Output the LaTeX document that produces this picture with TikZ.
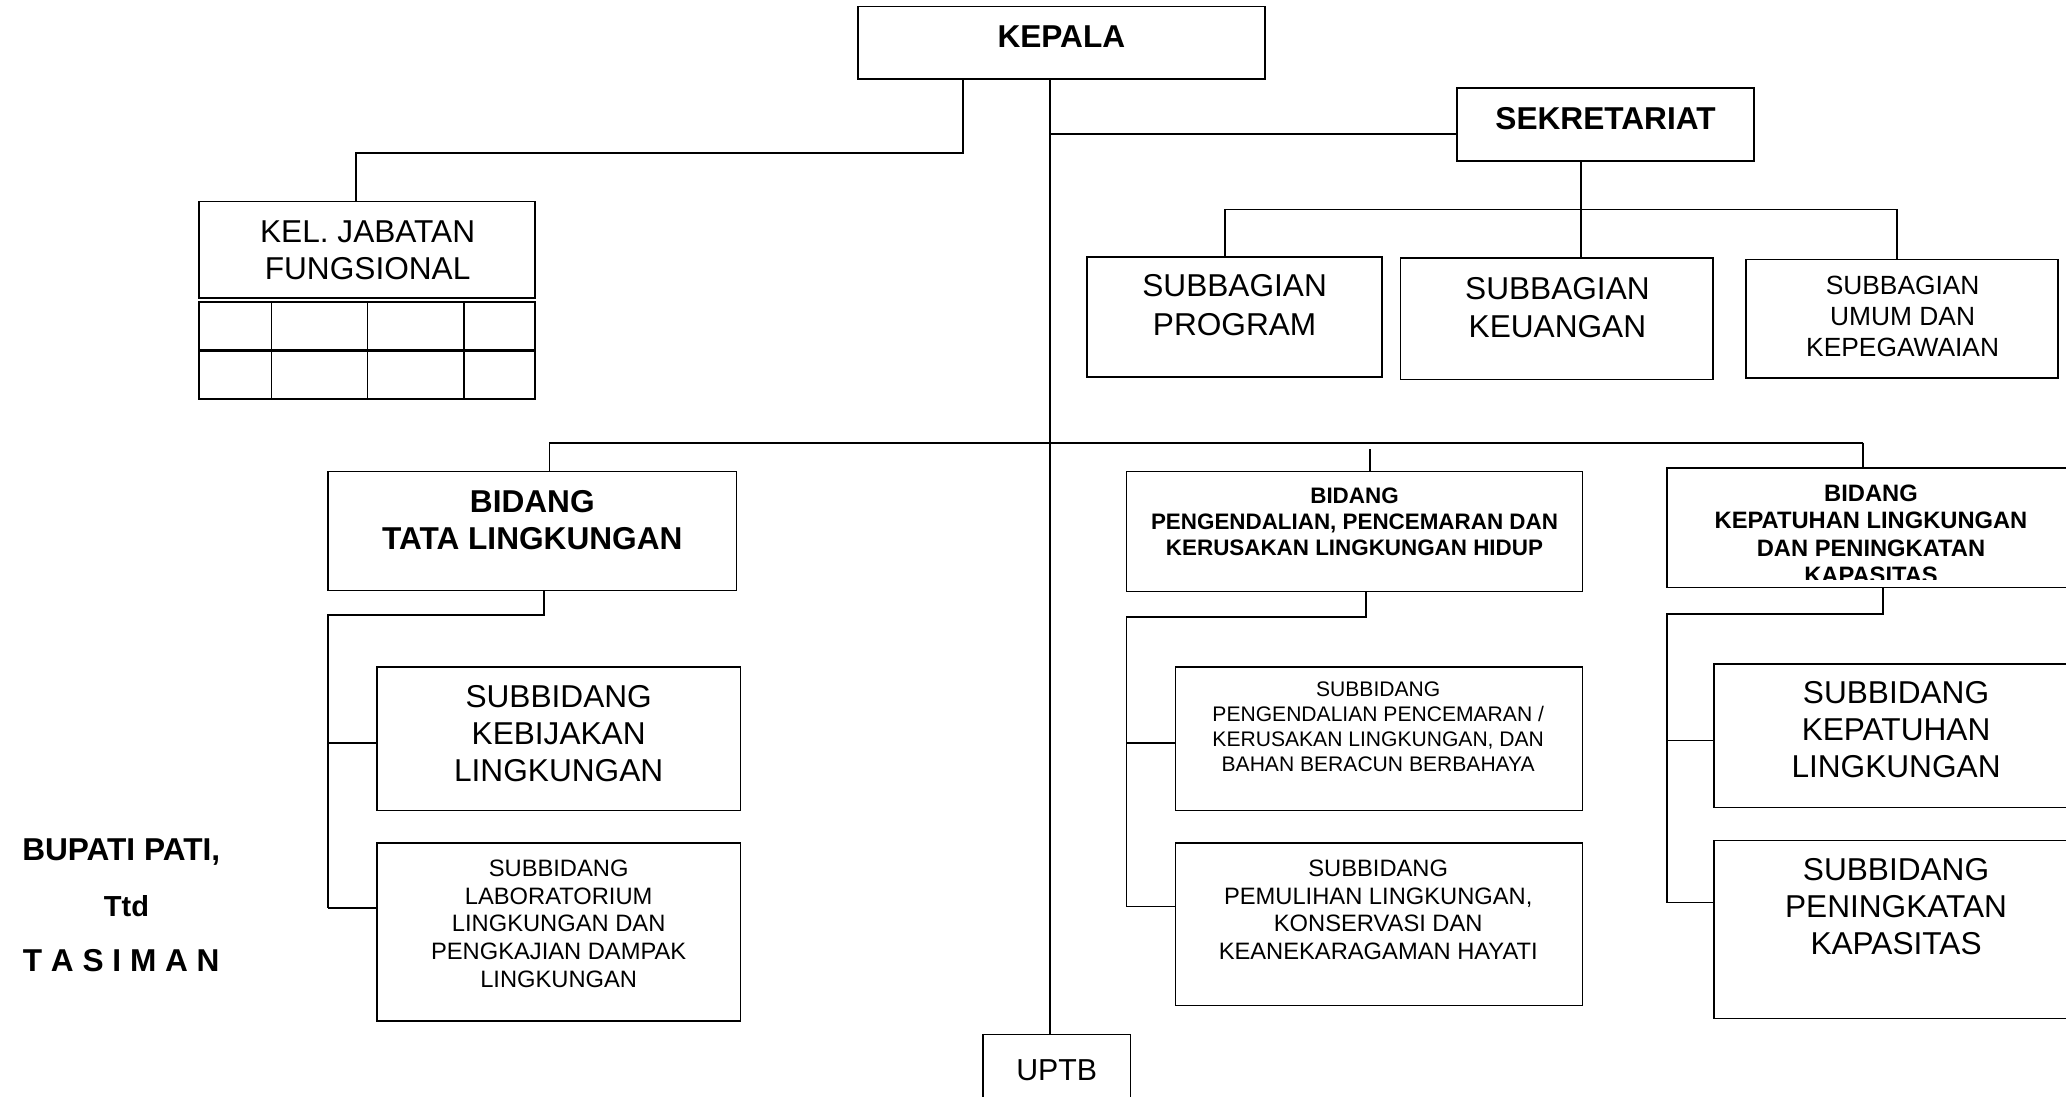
\documentclass[tikz,border=0pt]{standalone}
\usepackage{fontspec}
\setmainfont{Liberation Sans}
\begin{document}
\begin{tikzpicture}[x=1pt,y=-1pt,
  box/.style={draw, line width=1.2pt, inner sep=0pt, outer sep=0pt},
  txt/.style={align=center, inner sep=0pt},
  bigb/.style={txt, font=\bfseries\fontsize{24}{28}\selectfont},
  bigr/.style={txt, font=\fontsize{24}{28}\selectfont},
  midr/.style={txt, font=\fontsize{18}{21}\selectfont},
  conn/.style={line width=1.4pt}]
\useasboundingbox (0,0) rectangle (1568,832);
\clip (0,0) rectangle (1568,832);

% ---- boxes ----
\node[box, minimum width=309, minimum height=55] (kepala) at (805.5,32.5) {};
\node[box, minimum width=255, minimum height=73] (kel) at (278.5,189.5) {};
\node[box, minimum width=255, minimum height=74] (kelgrid) at (278.5,266) {};
\node[box, minimum width=225, minimum height=55] (sekr) at (1218.5,94.5) {};
\node[box, minimum width=224, minimum height=91] (prog) at (937,240.5) {};
\node[box, minimum width=237, minimum height=92] (keu) at (1181.5,242) {};
\node[box, minimum width=237, minimum height=90] (umum) at (1443.5,242) {};
\node[box, minimum width=310, minimum height=90] (tata) at (404,403) {};
\node[box, minimum width=346, minimum height=91] (peng) at (1028,403.5) {};
\node[box, minimum width=330, minimum height=91] (kep) at (1430,400.5) {};
\node[box, minimum width=276, minimum height=109] (keb) at (424,560.5) {};
\node[box, minimum width=276, minimum height=135] (lab) at (424,707.5) {};
\node[box, minimum width=309, minimum height=109] (subpeng) at (1046.5,560.5) {};
\node[box, minimum width=309, minimum height=123] (pem) at (1046.5,701.5) {};
\node[box, minimum width=290, minimum height=109] (subkep) at (1446,558.5) {};
\node[box, minimum width=290, minimum height=135] (ping) at (1446,705.5) {};
\node[box, minimum width=112, minimum height=60] (uptb) at (802,815) {};

% table grid under KEL
\draw[line width=2pt] (kelgrid.west) -- (kelgrid.east);
\draw[line width=1.2pt] (kelgrid.north -| 206,0) -- (kelgrid.south -| 206,0);
\draw[line width=1.2pt] (kelgrid.north -| 279,0) -- (kelgrid.south -| 279,0);
\draw[line width=1.2pt] (kelgrid.north -| 352,0) -- (kelgrid.south -| 352,0);

% ---- texts ----
\node[bigb] (kepala-t) at (805.5,28) {KEPALA};
\node[bigb] (sekr-t) at (1218.5,90) {SEKRETARIAT};
\node[bigr] (kel-t) at (279,190) {KEL. JABATAN\\FUNGSIONAL};
\node[bigr, font=\fontsize{24}{29}\selectfont] (prog-t) at (937,231.5) {SUBBAGIAN\\PROGRAM};
\node[bigr, font=\fontsize{24}{29}\selectfont] (keu-t) at (1182,233.5) {SUBBAGIAN\\KEUANGAN};
\node[txt, font=\fontsize{20}{23.5}\selectfont] (umum-t) at (1444,240.5) {SUBBAGIAN\\UMUM DAN\\KEPEGAWAIAN};
\node[bigb] (tata-t) at (404,395) {BIDANG\\TATA LINGKUNGAN};
\node[txt, font=\bfseries\fontsize{17}{20}\selectfont] (peng-t) at (1028,396) {BIDANG\\PENGENDALIAN, PENCEMARAN DAN\\KERUSAKAN LINGKUNGAN HIDUP};
\begin{scope}
  \clip (1266,356) rectangle (1568,440);
  \node[txt, font=\bfseries\fontsize{18}{20.7}\selectfont] (kep-t) at (1420,405.5) {BIDANG\\KEPATUHAN LINGKUNGAN\\DAN PENINGKATAN\\KAPASITAS};
\end{scope}
\node[bigr] (keb-t) at (424,557) {SUBBIDANG\\KEBIJAKAN\\LINGKUNGAN};
\node[midr] (lab-t) at (424,701) {SUBBIDANG\\LABORATORIUM\\LINGKUNGAN DAN\\PENGKAJIAN DAMPAK\\LINGKUNGAN};
\node[txt, font=\fontsize{16}{19}\selectfont] (subpeng-t) at (1046,551.5) {SUBBIDANG\\PENGENDALIAN PENCEMARAN /\\KERUSAKAN LINGKUNGAN, DAN\\BAHAN BERACUN BERBAHAYA};
\node[midr] (pem-t) at (1046,690.5) {SUBBIDANG\\PEMULIHAN LINGKUNGAN,\\KONSERVASI DAN\\KEANEKARAGAMAN HAYATI};
\node[bigr] (subkep-t) at (1439,554) {SUBBIDANG\\KEPATUHAN\\LINGKUNGAN};
\node[bigr] (ping-t) at (1439,688) {SUBBIDANG\\PENINGKATAN\\KAPASITAS};
\node[txt, font=\fontsize{23}{27}\selectfont] (uptb-t) at (802,812) {UPTB};

\node[bigb] (bupati) at (92,647) {BUPATI PATI,};
\node[txt, font=\bfseries\fontsize{22}{26}\selectfont] (ttd) at (96,688) {Ttd};
\node[bigb] (tasiman) at (92,729) {T A S I M A N};

% ---- connectors ----
\coordinate (jk) at (731,116);
\coordinate (jk2) at (270,116);
\draw[conn] (kepala.south -| jk) -- (jk) -- (jk2) -- (kel.north -| jk2);

\coordinate (mv) at (797,0);
\draw[conn] (kepala.south -| mv) -- (uptb.north -| mv);
\coordinate (js) at (797,102);
\draw[conn] (js) -- (js -| sekr.west);

\coordinate (sb) at (1200,159);
\coordinate (sbl) at (930,159);
\coordinate (sbr) at (1440,159);
\draw[conn] (sekr.south -| sb) -- (sb);
\draw[conn] (sbl) -- (sbr);
\draw[conn] (sbl) -- (prog.north -| sbl);
\draw[conn] (sb) -- (keu.north -| sb);
\draw[conn] (sbr) -- (umum.north -| sbr);

\coordinate (mbl) at (417,336);
\coordinate (mbr) at (1414,336);
\coordinate (mbp) at (1040,341);
\draw[conn] (mbl) -- (mbr);
\draw[conn] (mbl) -- (tata.north -| mbl);
\draw[conn] (mbp) -- (peng.north -| mbp);
\draw[conn] (mbr) -- (kep.north -| mbr);

% Tata branch
\coordinate (ta1) at (413,467);
\coordinate (ta2) at (249,467);
\coordinate (ta3) at (249,564);
\coordinate (ta4) at (249,689);
\draw[conn] (tata.south -| ta1) -- (ta1) -- (ta2) -- (ta4);
\draw[conn] (ta3) -- (ta3 -| keb.west);
\draw[conn] (ta4) -- (ta4 -| lab.west);

% Pengendalian branch
\coordinate (pa1) at (1037,468);
\coordinate (pa2) at (855,468);
\coordinate (pa3) at (855,564);
\coordinate (pa4) at (855,688);
\draw[conn] (peng.south -| pa1) -- (pa1) -- (pa2) -- (pa4);
\draw[conn] (pa3) -- (pa3 -| subpeng.west);
\draw[conn] (pa4) -- (pa4 -| pem.west);

% Kepatuhan branch
\coordinate (ka1) at (1429,466);
\coordinate (ka2) at (1265,466);
\coordinate (ka3) at (1265,562);
\coordinate (ka4) at (1265,685);
\draw[conn] (kep.south -| ka1) -- (ka1) -- (ka2) -- (ka4);
\draw[conn] (ka3) -- (ka3 -| subkep.west);
\draw[conn] (ka4) -- (ka4 -| ping.west);
\end{tikzpicture}
\end{document}
